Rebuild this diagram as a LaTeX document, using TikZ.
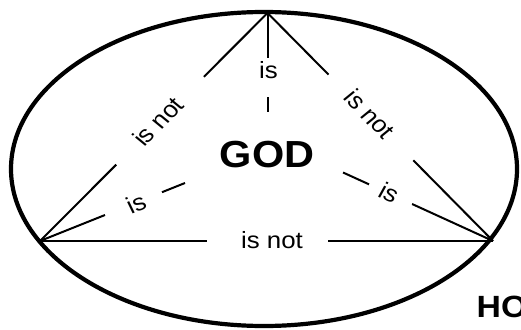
\documentclass[tikz,border=0pt]{standalone}
\usepackage{fontspec}
\setmainfont{Liberation Sans}
\usetikzlibrary{calc}
\begin{document}
\begin{tikzpicture}[xscale=1.1, x=0.9090909pt, y=-1pt,
  every node/.style={transform shape, inner sep=0pt},
  conn/.style={line width=2pt},
  rim/.style={line width=4.2pt},
  lab/.style={font=\fontsize{23.5}{28}\selectfont},
  godtext/.style={font=\fontsize{37.7}{44}\selectfont\bfseries}]
\useasboundingbox (0,0) rectangle (521,329);
\clip (0,0) rectangle (521,329);
\fill[white] (0,0) rectangle (521,329);
\draw[rim] (264,169) ellipse [x radius=253, y radius=157];
% vertices
\coordinate (T) at (267.5,13);
\coordinate (L) at (40,241);
\coordinate (R) at (493,241);
\node[godtext] (G) at (267,154.5) {GOD};
% labels
\node[lab] (isT) at (268.5,70.5) {is};
\node[lab, rotate=47.9] (notTL) at (158,121.5) {is not};
\node[lab, rotate=-48] (notTR) at (370,114) {is not};
\node[lab, rotate=23.75] (isL) at (136,203) {is};
\node[lab, rotate=-26.7] (isR) at (389,192.5) {is};
\node[lab] (notB) at (272,240.5) {is not};
\node[font=\fontsize{30.7}{36}\selectfont\bfseries, anchor=base west] (HO) at (476.5,317) {HO};
% segment ends
\coordinate (tl1) at ($(T)!0.28!(L)$);
\coordinate (tl2) at ($(T)!0.665!(L)$);
\coordinate (tr1) at ($(T)!0.27!(R)$);
\coordinate (tr2) at ($(T)!0.646!(R)$);
\coordinate (v1) at (267.5,58);
\coordinate (v2) at (267.5,97);
\coordinate (v3) at (267.5,112);
\coordinate (lg) at (185,183);
\coordinate (lg1) at ($(L)!0.448!(lg)$);
\coordinate (lg2) at ($(L)!0.841!(lg)$);
\coordinate (rg) at (343,172.5);
\coordinate (rg1) at ($(R)!0.54!(rg)$);
\coordinate (rg2) at ($(R)!0.827!(rg)$);
\coordinate (b1) at (207,241);
\coordinate (b2) at (328,241);
% connectors
\draw[conn] (T) -- (tl1);
\draw[conn] (tl2) -- (L);
\draw[conn] (T) -- (tr1);
\draw[conn] (tr2) -- (R);
\draw[conn] (T) -- (v1);
\draw[conn] (v2) -- (v3);
\draw[conn] (L) -- (lg1);
\draw[conn] (lg2) -- (lg);
\draw[conn] (R) -- (rg1);
\draw[conn] (rg2) -- (rg);
\draw[conn] (L) -- (b1);
\draw[conn] (b2) -- (R);
\end{tikzpicture}
\end{document}
